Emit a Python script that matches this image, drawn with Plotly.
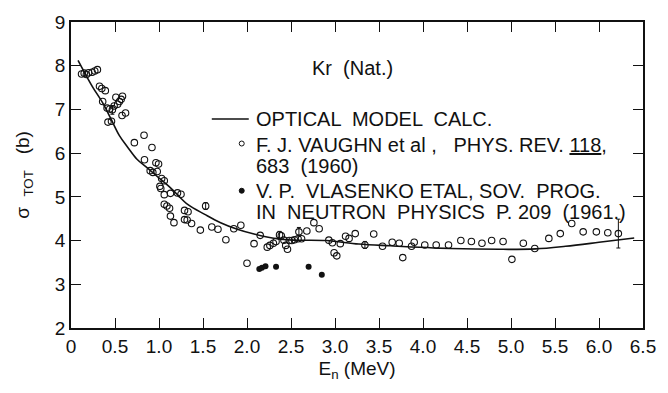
import plotly.graph_objects as go

# Optical model calculation (smooth curve)
model_e = [0.08, 0.16, 0.25, 0.36, 0.45, 0.55, 0.65, 0.75, 0.85, 0.96, 1.14, 1.33,
           1.52, 1.70, 1.89, 2.08, 2.34, 2.52, 2.90, 3.27, 3.63, 4.31, 4.87, 5.28,
           5.62, 6.00, 6.40]
model_sigma = [8.12, 7.82, 7.50, 7.15, 6.80, 6.40, 6.12, 5.86, 5.69, 5.50, 5.19, 4.82,
               4.60, 4.41, 4.26, 4.15, 4.04, 4.01, 4.00, 3.92, 3.88, 3.82, 3.80, 3.81,
               3.87, 3.96, 4.06]

# F. J. Vaughn et al, Phys. Rev. 118, 683 (1960)
vaughn_e = [0.12, 0.15, 0.175, 0.20, 0.24, 0.27, 0.30, 0.324, 0.35, 0.39, 0.36, 0.41,
            0.44, 0.47, 0.49, 0.51, 0.53, 0.55, 0.57, 0.585, 0.58, 0.62, 0.42, 0.46,
            0.83, 0.72, 0.92, 0.835, 0.965, 0.995, 0.90, 0.93, 0.98, 1.03, 1.06, 1.01,
            1.02, 1.06, 1.13, 1.21, 1.25, 1.06, 1.09, 1.12, 1.13, 1.17, 1.29, 1.33,
            1.29, 1.32, 1.37, 1.53, 1.47, 1.60, 1.67, 1.76, 1.85, 1.93, 2.00, 2.08,
            2.15, 2.23, 2.26, 2.30, 2.33, 2.37, 2.39, 2.42, 2.44, 2.46, 2.48, 2.51,
            2.54, 2.58, 2.62, 2.59, 2.68, 2.76, 2.82, 2.93, 2.97, 2.99, 3.02, 3.06,
            3.12, 3.16, 3.23, 3.34, 3.44, 3.54, 3.65, 3.73, 3.77, 3.87, 3.90, 4.02,
            4.15, 4.29, 4.43, 4.55, 4.67, 4.78, 4.91, 5.01, 5.14, 5.27, 5.43, 5.56,
            5.69, 5.82, 5.97, 6.10, 6.22]
vaughn_sigma = [7.81, 7.83, 7.80, 7.84, 7.85, 7.88, 7.91, 7.53, 7.48, 7.43, 7.18, 7.03,
                7.01, 6.99, 7.08, 7.28, 7.12, 7.18, 7.23, 7.30, 6.86, 6.92, 6.71, 6.73,
                6.41, 6.24, 6.13, 5.85, 5.78, 5.75, 5.60, 5.56, 5.58, 5.42, 5.37, 5.24,
                5.19, 5.05, 5.08, 5.09, 5.06, 4.83, 4.79, 4.74, 4.56, 4.41, 4.69, 4.66,
                4.48, 4.47, 4.39, 4.79, 4.24, 4.31, 4.26, 4.02, 4.27, 4.35, 3.48, 3.93,
                4.12, 3.85, 3.89, 3.94, 3.98, 4.13, 4.11, 4.01, 3.89, 3.80, 4.00, 4.00,
                4.02, 4.04, 4.04, 4.20, 4.22, 4.41, 4.27, 4.01, 3.95, 3.72, 3.65, 3.93,
                4.10, 4.05, 4.16, 3.90, 4.15, 3.87, 3.96, 3.94, 3.61, 3.87, 3.96, 3.90,
                3.90, 3.90, 4.00, 3.98, 3.94, 4.00, 3.98, 3.57, 3.94, 3.82, 4.05, 4.16,
                4.39, 4.20, 4.20, 4.18, 4.16]
# points of the Vaughn set that carry an error bar, and the half-length of each bar
err_e = [0.47, 1.53, 2.37, 2.59, 3.34, 6.22]
err_half = [0.10, 0.08, 0.08, 0.10, 0.08, 0.33]

# V. P. Vlasenko et al, Sov. Prog. in Neutron Physics p. 209 (1961)
vlasenko_e = [2.14, 2.17, 2.21, 2.33, 2.70, 2.85]
vlasenko_sigma = [3.35, 3.38, 3.41, 3.40, 3.40, 3.22]

x_ticks = [0, 0.5, 1.0, 1.5, 2.0, 2.5, 3.0, 3.5, 4.0, 4.5, 5.0, 5.5, 6.0, 6.5]
x_tick_text = ["0", "0.5", "1.0", "1.5", "2.0", "2.5", "3.0", "3.5", "4.0", "4.5",
               "5.0", "5.5", "6.0", "6.5"]
y_ticks = [2, 3, 4, 5, 6, 7, 8, 9]

FONT = "Liberation Sans"
INK = "#111111"
NBSP = "\u00a0"

fig = go.Figure()

fig.add_trace(go.Scatter(
    x=model_e, y=model_sigma, mode="lines", line_shape="spline",
    line=dict(color=INK, width=1.6), hoverinfo="skip"))

fig.add_trace(go.Scatter(
    x=vaughn_e, y=vaughn_sigma, mode="markers",
    marker=dict(symbol="circle-open", size=6.5, color=INK, line=dict(width=1.1))))

# error bars on the selected Vaughn points
err_sigma = [vaughn_sigma[vaughn_e.index(e)] for e in err_e]
fig.add_trace(go.Scatter(
    x=err_e, y=err_sigma, mode="markers", marker=dict(size=0, opacity=0),
    error_y=dict(type="data", array=err_half, visible=True, color=INK,
                 thickness=1, width=2), hoverinfo="skip"))

fig.add_trace(go.Scatter(
    x=vlasenko_e, y=vlasenko_sigma, mode="markers",
    marker=dict(symbol="circle", size=6, color=INK)))

# Key: line sample and marker samples placed beside the legend text
fig.add_shape(type="line", xref="x", yref="y", x0=1.60, x1=2.02, y0=6.78, y1=6.78,
              line=dict(color=INK, width=1.6))
fig.add_shape(type="circle", xref="x", yref="y", xsizemode="pixel", ysizemode="pixel",
              xanchor=1.94, yanchor=6.22, x0=-2.5, x1=2.5, y0=-2.5, y1=2.5,
              line=dict(color=INK, width=1))
fig.add_shape(type="circle", xref="x", yref="y", xsizemode="pixel", ysizemode="pixel",
              xanchor=1.94, yanchor=5.14, x0=-2.5, x1=2.5, y0=-2.5, y1=2.5,
              line=dict(color=INK, width=1), fillcolor=INK)

text_font = dict(family=FONT, size=20, color=INK)
labels = [
    (3.20, 7.95, "Kr  (Nat.)", "center"),
    (2.08, 6.78, "OPTICAL  MODEL  CALC.", "left"),
    (2.08, 6.19, "F. J. VAUGHN et al ,   PHYS. REV. <u>118</u>,", "left"),
    (2.08, 5.70, "683  (1960)", "left"),
    (2.08, 5.13, "V. P.  VLASENKO ETAL, SOV.  PROG.", "left"),
    (2.08, 4.66, "IN  NEUTRON  PHYSICS  P. 209  (1961.)", "left"),
]
for lx, ly, txt, anchor in labels:
    fig.add_annotation(x=lx, y=ly, xref="x", yref="y", text=txt, showarrow=False,
                       xanchor=anchor, yanchor="middle", font=text_font)

axis_common = dict(
    showgrid=False, zeroline=False, showline=True, linecolor=INK, linewidth=1.6,
    mirror="ticks", ticks="inside", ticklen=10, tickwidth=1.4, tickcolor=INK,
    tickfont=dict(family=FONT, size=19, color=INK))

fig.update_xaxes(range=[0, 6.5], tickvals=x_ticks, ticktext=x_tick_text,
                 title=dict(text="E<sub>n</sub> (MeV)", font=dict(family=FONT, size=19, color=INK),
                            standoff=6),
                 **axis_common)
fig.update_yaxes(range=[2, 9], tickvals=y_ticks,
                 title=dict(text="σ" + NBSP * 2 + "<sub>TOT</sub>" + NBSP * 3 + "(b)" + NBSP * 4,
                            font=dict(family=FONT, size=19, color=INK), standoff=20),
                 **axis_common)

fig.update_layout(
    width=668, height=393,
    margin=dict(l=71, r=17, t=15, b=65),
    paper_bgcolor="white", plot_bgcolor="white",
    showlegend=False)

fig.write_html("out.html")
